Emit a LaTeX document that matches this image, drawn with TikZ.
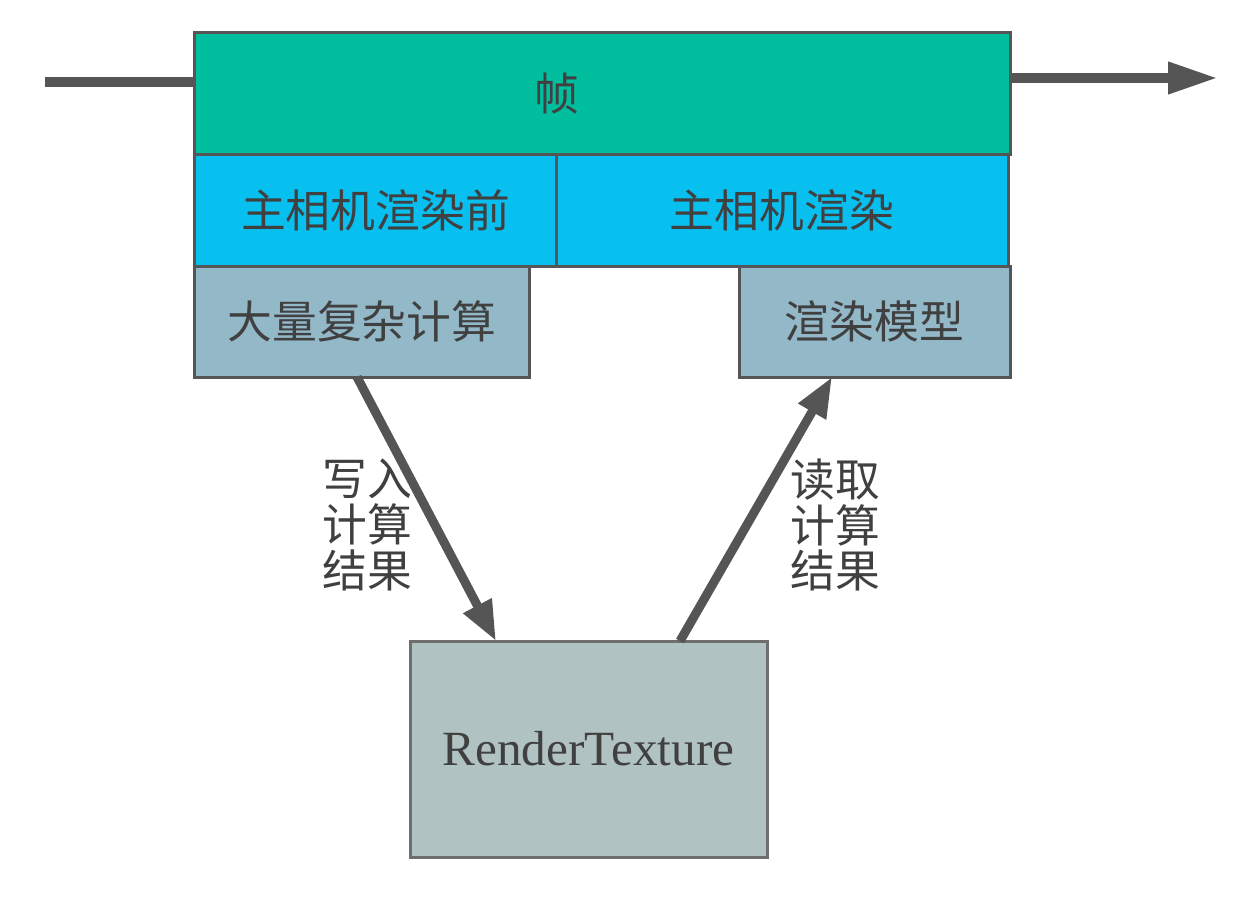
\documentclass[tikz,border=0pt]{standalone}
\usepackage{fontspec}
\setmainfont{Liberation Serif}
\newfontfamily\cjk{Noto Sans CJK SC}
\usepackage{tikz}
\usetikzlibrary{arrows.meta}
\definecolor{framegreen}{HTML}{00BE9E}
\definecolor{camblue}{HTML}{08C0F0}
\definecolor{taskgray}{HTML}{93B8C8}
\definecolor{texgray}{HTML}{B0C2C2}
\definecolor{edge}{HTML}{555555}
\definecolor{ink}{HTML}{404040}

\begin{document}
\begin{tikzpicture}[
  x=0.2mm, y=-0.2mm,
  every node/.style={font=\cjk\fontsize{25.5}{26}\selectfont,text=ink},
  block/.style={draw=edge,line width=0.6mm,inner sep=0pt,outer sep=0pt,minimum height=22.2mm,align=center},
  flow/.style={-{Triangle[length=10mm,width=6mm]},line width=2mm,draw=edge},
  arrow/.style={-{Triangle[length=8mm,width=6mm]},line width=1.8mm,draw=edge}
]
\useasboundingbox (0,0) rectangle (1246,902);
\node[block,fill=framegreen,minimum width=163mm,minimum height=24.4mm,label={[xshift=-9.1mm]center:帧}] (frame) at (602.5,94) {};
\node[block,fill=camblue,minimum width=72.2mm,anchor=north west] (before) at (frame.south west) {主相机渲染前};
\node[block,fill=camblue,minimum width=90.4mm,anchor=north east] (render) at ([xshift=-0.4mm]frame.south east) {主相机渲染};
\node[block,fill=taskgray,minimum width=66.8mm,anchor=north west] (compute) at (before.south west) {大量复杂计算};
\node[block,fill=taskgray,minimum width=54.2mm,anchor=north east] (model) at ([xshift=0.4mm]render.south east) {渲染模型};
\node[block,fill=texgray,draw=edge!85!white,minimum width=71.4mm,minimum height=43.2mm,font=\fontsize{28}{30}\selectfont] (tex) at (588.5,749) {RenderTexture};
\node[align=center] (write) at (367,525) {写入\\计算\\结果};
\node[align=center] (read) at (835,525) {读取\\计算\\结果};
\coordinate (in) at (45,82);
\coordinate (out) at (1218,78);
\draw[line width=2mm,draw=edge] (in) -- (in -| frame.west);
\draw[flow] (out -| frame.east) -- (out);
\draw[arrow] ([xshift=-1mm]compute.south) -- ([xshift=-18.5mm]tex.north);
\draw[arrow] ([xshift=18.3mm]tex.north) -- ([xshift=-8.5mm]model.south);
\end{tikzpicture}
\end{document}
